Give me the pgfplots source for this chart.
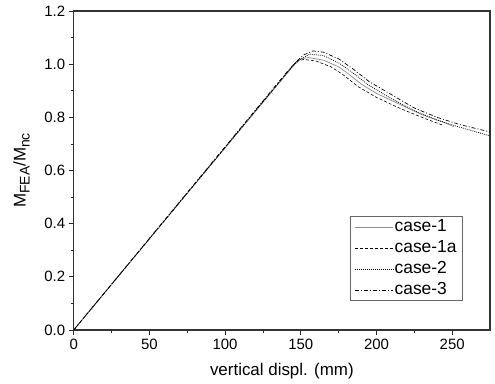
\documentclass[border=0pt]{standalone}
\usepackage{pgfplots}
\pgfplotsset{compat=1.18}
\usepackage{fontspec}
\setmainfont{Liberation Sans}
\newcommand{\sub}[1]{\raisebox{-0.45ex}{\fontsize{14}{14}\selectfont #1}}
\begin{document}
\begin{tikzpicture}
\path[use as bounding box] (-73.7bp,-54bp) rectangle (421.3bp,330bp);
\begin{axis}[
  at={(0,0)}, anchor=south west,
  scale only axis,
  width=416.3bp, height=319bp,
  xmin=0, xmax=275, ymin=0, ymax=1.2,
  xtick={0,50,100,150,200,250},
  ytick={0,0.2,0.4,0.6,0.8,1.0,1.2},
  minor x tick num=1, minor y tick num=1,
  tick align=outside,
  xtick pos=bottom, ytick pos=left,
  major tick length=5bp, minor tick length=3bp,
  tick style={line width=0.8pt, black!85},
  yticklabel style={/pgf/number format/fixed, /pgf/number format/fixed zerofill, /pgf/number format/precision=1, xshift=0bp},
  /pgf/number format/assume math mode=true,
  tick label style={font=\fontsize{15}{17}\selectfont},
  xticklabel style={yshift=-1bp},
  xlabel={vertical displ. (mm)},
  ylabel={M\sub{FEA}/M\sub{nc}},
  xlabel style={font=\fontsize{17}{19}\selectfont, at={(axis description cs:0.5,-0.128)}, anchor=center},
  ylabel style={font=\fontsize{17}{19}\selectfont, at={(axis description cs:-0.125,0.5)}, anchor=center},
  axis line style={line width=1.2pt, black!80},
  legend cell align=left,
  legend style={at={(0.935,0.0906)}, anchor=south east, font=\fontsize{17.5}{19}\selectfont,
    draw=black!60, line width=0.6pt, row sep=3bp, inner xsep=4.5bp, inner ysep=1.5bp,
    nodes={inner sep=1.5bp, text height=12bp, text depth=3bp}},
  legend image code/.code={\draw[#1] (0bp,0bp) -- (38bp,0bp);},
]
\addplot[black!45, line width=0.7pt] coordinates {
(0,0) (146,1.0) (150,1.02) (155,1.025) (165,1.015) (175,0.99) (180,0.97) (190,0.925) (200,0.89) (215,0.85) (230,0.81) (245,0.78) (251,0.765)};
\addlegendentry{case-1}
\addplot[black, line width=0.6pt, dash pattern=on 3pt off 2pt] coordinates {
(0,0) (147,1.01) (152,1.018) (160,1.012) (170,0.99) (178,0.96) (188,0.915) (200,0.875) (215,0.835) (230,0.80) (244,0.77)};
\addlegendentry{case-1a}
\addplot[black, line width=0.8pt, dash pattern=on 0.8pt off 1.2pt] coordinates {
(0,0) (145,0.995) (150,1.02) (156,1.038) (165,1.032) (175,1.005) (185,0.965) (195,0.92) (210,0.87) (225,0.825) (240,0.79) (255,0.763) (275,0.73)};
\addlegendentry{case-2}
\addplot[black, line width=0.7pt, dash pattern=on 4pt off 2pt on 1pt off 2pt] coordinates {
(0,0) (140,0.965) (148,1.015) (152,1.035) (158,1.05) (165,1.045) (175,1.02) (185,0.98) (195,0.935) (210,0.885) (225,0.835) (240,0.80) (255,0.773) (275,0.745)};
\addlegendentry{case-3}
\end{axis}
\end{tikzpicture}
\end{document}
